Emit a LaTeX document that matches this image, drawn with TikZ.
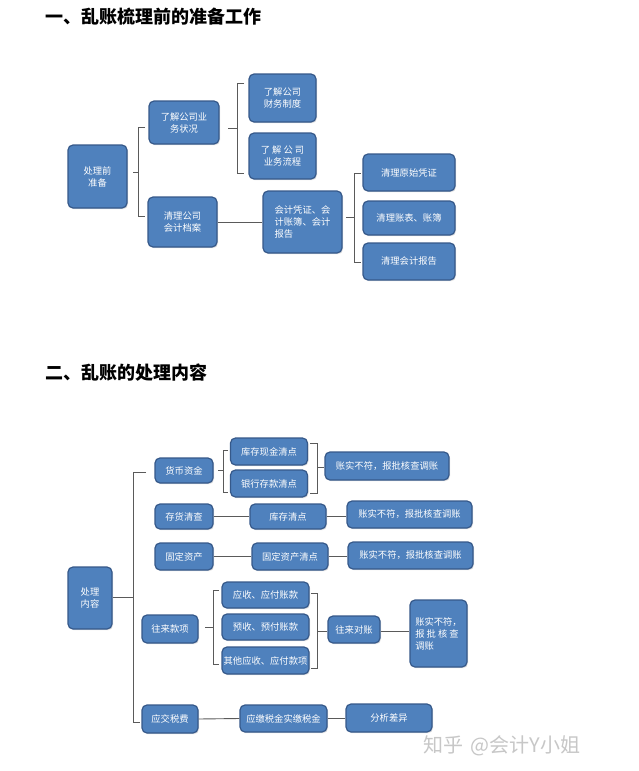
\documentclass[tikz,border=0pt]{standalone}
\usepackage{fontspec}
\setmainfont{Noto Sans CJK SC}
\usetikzlibrary{shadows}
\definecolor{boxblue}{HTML}{4F81BD}
\definecolor{boxedge}{HTML}{36598A}
\definecolor{linkgray}{HTML}{5A5A5A}
\begin{document}
\begin{tikzpicture}[x=1pt,y=-1pt,
    box/.style={draw=boxedge,line width=1.2pt,fill=boxblue,rounded corners=5pt,
      text=white,font=\fontsize{9.3}{12}\selectfont,align=center,inner sep=1pt,
      drop shadow={shadow xshift=1pt,shadow yshift=-1.2pt,opacity=0.25}},
    link/.style={draw=linkgray,line width=0.9pt},
    title/.style={anchor=west,font=\fontsize{18}{20}\selectfont\bfseries}]
  \useasboundingbox[fill=white] (0,0) rectangle (639,771);
  % section one
  \node[title] (t1) at (42,17) {一、乱账梳理前的准备工作};
  \node[box,minimum width=59pt,minimum height=63pt] (prep) at (97.5,176.5) {处理前\\准备};
  \node[box,minimum width=70pt,minimum height=43pt] (biz) at (184,122.5) {了解公司业\\务状况};
  \node[box,minimum width=69pt,minimum height=50pt] (arch) at (182.5,222) {清理公司\\会计档案};
  \node[box,minimum width=67pt,minimum height=48pt] (fin) at (282.5,98) {了解公司\\财务制度};
  \node[box,minimum width=67pt,minimum height=46pt] (flow) at (282.5,156) {了 解 公 司\\业务流程};
  \node[box,minimum width=79pt,minimum height=62pt,align=left] (vouch) at (302.5,222) {会计凭证、会\\计账簿、会计\\报告};
  \node[box,minimum width=92pt,minimum height=37pt] (orig) at (409,172.5) {清理原始凭证};
  \node[box,minimum width=92pt,minimum height=34pt] (ledg) at (409,218) {清理账表、账簿};
  \node[box,minimum width=92pt,minimum height=37pt] (rept) at (409,261.5) {清理会计报告};
  \draw[link] (145,127) -- (138,127) -- (138,216) -- (145,216);
  \draw[link] (133,172) -- (138,172);
  \draw[link] (244,83) -- (237,83) -- (237,173) -- (244,173);
  \draw[link] (228,128) -- (237,128);
  \draw[link] (arch.east) -- (vouch.west);
  \draw[link] (361,173) -- (354,173) -- (354,262) -- (361,262);
  \draw[link] (346,217) -- (354,217);
  % section two
  \node[title] (t2) at (42,373) {二、乱账的处理内容};
  \node[box,minimum width=44pt,minimum height=62pt] (content) at (90,598) {处理\\内容};
  \node[box,minimum width=58pt,minimum height=25pt] (cash) at (184,470.5) {货币资金};
  \node[box,minimum width=77pt,minimum height=27pt] (cashc) at (269,451.5) {库存现金清点};
  \node[box,minimum width=77pt,minimum height=27pt] (bank) at (269,483.5) {银行存款清点};
  \node[box,minimum width=124pt,minimum height=28pt] (diffa) at (387,466) {账实不符，报批核查调账};
  \node[box,minimum width=58pt,minimum height=25pt] (inv) at (184,516.5) {存货清查};
  \node[box,minimum width=76pt,minimum height=25pt] (invc) at (288,516.5) {库存清点};
  \node[box,minimum width=125pt,minimum height=27pt] (diffb) at (409.5,514.5) {账实不符，报批核查调账};
  \node[box,minimum width=58pt,minimum height=27pt] (fix) at (184,556.5) {固定资产};
  \node[box,minimum width=76pt,minimum height=27pt] (fixc) at (290,556.5) {固定资产清点};
  \node[box,minimum width=125pt,minimum height=27pt] (diffc) at (410.5,555.5) {账实不符，报批核查调账};
  \node[box,minimum width=56pt,minimum height=28pt] (deal) at (170,629) {往来款项};
  \node[box,minimum width=87pt,minimum height=26pt] (ar) at (265.5,595) {应收、应付账款};
  \node[box,minimum width=87pt,minimum height=26pt] (adv) at (265.5,627) {预收、预付账款};
  \node[box,minimum width=87pt,minimum height=27pt] (oth) at (265.5,660.5) {其他应收、应付款项};
  \node[box,minimum width=52pt,minimum height=27pt] (rec) at (354,629.5) {往来对账};
  \node[box,minimum width=57pt,minimum height=67pt,align=left] (diffd) at (438.5,633.5) {账实不符，\\报 批 核 查\\调账};
  \node[box,minimum width=56pt,minimum height=28pt] (tax) at (170,719) {应交税费};
  \node[box,minimum width=87pt,minimum height=27pt] (taxc) at (283.5,718.5) {应缴税金实缴税金};
  \node[box,minimum width=86pt,minimum height=28pt] (ana) at (389,718) {分析差异};
  \node[text=black!22,font=\fontsize{20}{22}\selectfont] (mark) at (502,746) {知乎\,\,@会计Y小姐};
  % brackets and links
  \draw[link] (146,472) -- (133,472) -- (133,722) -- (140,722);
  \draw[link] (content.east |- 0,597) -- (133,597);
  \draw[link] (218,470) -- (223,470);
  \draw[link] (228,450) -- (223,450) -- (223,492) -- (228,492);
  \draw[link] (310,443) -- (317,443) -- (317,493) -- (310,493);
  \draw[link] (317,467) -- (diffa.west |- 0,467);
  \draw[link] (inv.east) -- (invc.west);
  \draw[link] (invc.east) -- (diffb.west |- invc.east);
  \draw[link] (fix.east) -- (fixc.west);
  \draw[link] (fixc.east) -- (diffc.west |- fixc.east);
  \draw[link] (205,627) -- (213,627);
  \draw[link] (219,590) -- (213,590) -- (213,664) -- (219,664);
  \draw[link] (311,593) -- (317,593) -- (317,668) -- (311,668);
  \draw[link] (317,631) -- (rec.west |- 0,631);
  \draw[link] (rec.east |- 0,631) -- (diffd.west |- 0,631);
  \draw[link] (tax.east) -- (taxc.west);
  \draw[link] (taxc.east) -- (ana.west |- taxc.east);
\end{tikzpicture}
\end{document}
